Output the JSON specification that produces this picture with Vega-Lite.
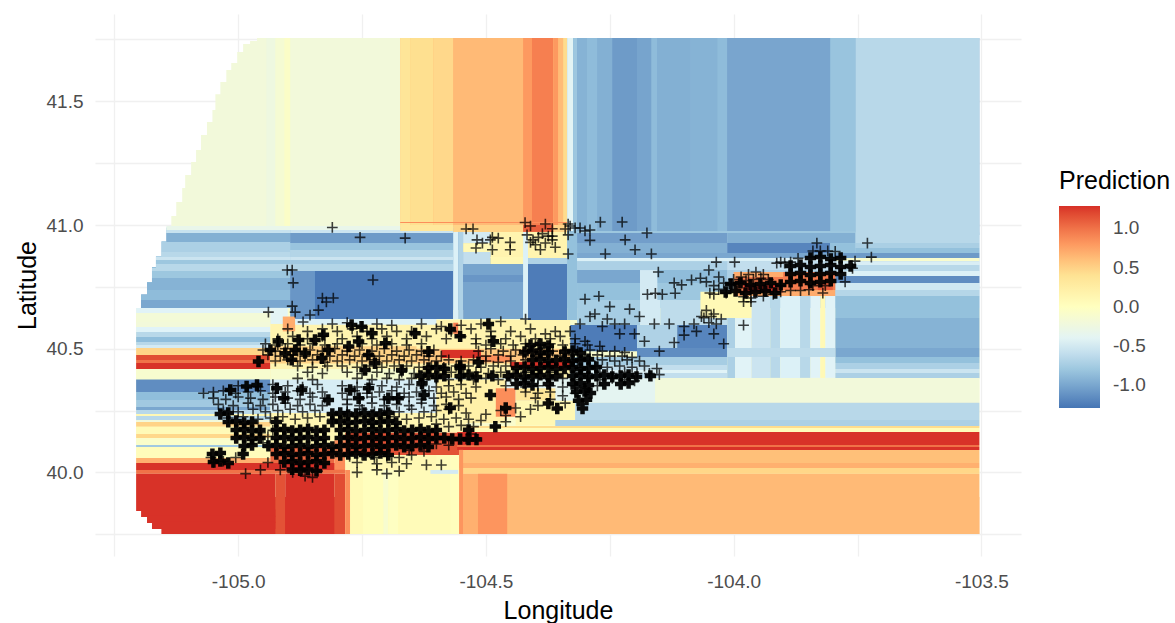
{"$schema":"https://vega.github.io/schema/vega-lite/v6.json","width":926,"height":542,"autosize":{"type":"none"},"padding":{"left":95,"top":14,"right":154,"bottom":67},"background":"white","config":{"view":{"stroke":null},"font":"Liberation Sans"},
"datasets":{"cells":[
{"lon1":-104.962,"lon2":-104.673,"lat1":41.0,"lat2":41.756,"pred":-0.2},
{"lon1":-105.135,"lon2":-104.673,"lat1":40.99,"lat2":41.036,"pred":-0.2},
{"lon1":-105.125,"lon2":-104.9,"lat1":41.03,"lat2":41.093,"pred":-0.2},
{"lon1":-105.113,"lon2":-104.9,"lat1":41.09,"lat2":41.15,"pred":-0.2},
{"lon1":-105.107,"lon2":-104.9,"lat1":41.14,"lat2":41.202,"pred":-0.2},
{"lon1":-105.095,"lon2":-104.9,"lat1":41.2,"lat2":41.255,"pred":-0.2},
{"lon1":-105.085,"lon2":-104.9,"lat1":41.25,"lat2":41.303,"pred":-0.2},
{"lon1":-105.075,"lon2":-104.9,"lat1":41.3,"lat2":41.364,"pred":-0.2},
{"lon1":-105.063,"lon2":-104.9,"lat1":41.36,"lat2":41.416,"pred":-0.2},
{"lon1":-105.052,"lon2":-104.9,"lat1":41.41,"lat2":41.465,"pred":-0.2},
{"lon1":-105.046,"lon2":-104.9,"lat1":41.46,"lat2":41.529,"pred":-0.2},
{"lon1":-105.036,"lon2":-104.9,"lat1":41.525,"lat2":41.578,"pred":-0.2},
{"lon1":-105.024,"lon2":-104.9,"lat1":41.575,"lat2":41.627,"pred":-0.2},
{"lon1":-105.014,"lon2":-104.9,"lat1":41.62,"lat2":41.655,"pred":-0.2},
{"lon1":-105.002,"lon2":-104.9,"lat1":41.65,"lat2":41.699,"pred":-0.2},
{"lon1":-104.99,"lon2":-104.9,"lat1":41.695,"lat2":41.732,"pred":-0.2},
{"lon1":-104.976,"lon2":-104.9,"lat1":41.73,"lat2":41.744,"pred":-0.2},
{"lon1":-104.673,"lon2":-104.336,"lat1":40.99,"lat2":41.756,"pred":0.6},
{"lon1":-104.336,"lon2":-103.504,"lat1":40.96,"lat2":41.756,"pred":-0.95},
{"lon1":-105.145,"lon2":-104.336,"lat1":40.9,"lat2":40.99,"pred":-0.8},
{"lon1":-105.155,"lon2":-104.336,"lat1":40.86,"lat2":40.935,"pred":-0.7},
{"lon1":-105.166,"lon2":-104.336,"lat1":40.81,"lat2":40.875,"pred":-0.7},
{"lon1":-105.174,"lon2":-104.336,"lat1":40.76,"lat2":40.83,"pred":-0.85},
{"lon1":-105.184,"lon2":-104.336,"lat1":40.71,"lat2":40.77,"pred":-0.9},
{"lon1":-105.196,"lon2":-104.336,"lat1":40.65,"lat2":40.72,"pred":-0.95},
{"lon1":-104.336,"lon2":-103.504,"lat1":40.38,"lat2":40.97,"pred":-0.7},
{"lon1":-105.206,"lon2":-103.504,"lat1":39.89,"lat2":40.665,"pred":-0.1},
{"lon1":-105.155,"lon2":-104.784,"lat1":39.751,"lat2":39.9,"pred":1.28},
{"lon1":-104.784,"lon2":-104.554,"lat1":39.751,"lat2":39.9,"pred":0.05},
{"lon1":-104.554,"lon2":-103.504,"lat1":39.751,"lat2":39.9,"pred":0.63},
{"lon1":-104.943,"lon2":-104.925,"lat1":40.996,"lat2":41.756,"pred":-0.25},
{"lon1":-104.925,"lon2":-104.907,"lat1":40.996,"lat2":41.756,"pred":-0.15},
{"lon1":-104.907,"lon2":-104.895,"lat1":40.996,"lat2":41.756,"pred":-0.06},
{"lon1":-104.673,"lon2":-104.653,"lat1":40.996,"lat2":41.756,"pred":0.36},
{"lon1":-104.653,"lon2":-104.606,"lat1":40.996,"lat2":41.756,"pred":0.43},
{"lon1":-104.606,"lon2":-104.566,"lat1":40.996,"lat2":41.756,"pred":0.47},
{"lon1":-104.566,"lon2":-104.425,"lat1":40.996,"lat2":41.756,"pred":0.63},
{"lon1":-104.425,"lon2":-104.407,"lat1":40.996,"lat2":41.756,"pred":0.8},
{"lon1":-104.407,"lon2":-104.364,"lat1":40.996,"lat2":41.756,"pred":0.93},
{"lon1":-104.364,"lon2":-104.354,"lat1":40.996,"lat2":41.756,"pred":0.8},
{"lon1":-104.354,"lon2":-104.344,"lat1":40.996,"lat2":41.756,"pred":0.62},
{"lon1":-104.344,"lon2":-104.336,"lat1":40.996,"lat2":41.756,"pred":0.45},
{"lon1":-104.336,"lon2":-104.324,"lat1":40.976,"lat2":41.756,"pred":-0.4},
{"lon1":-104.324,"lon2":-104.316,"lat1":40.976,"lat2":41.756,"pred":-0.8},
{"lon1":-104.316,"lon2":-104.296,"lat1":40.976,"lat2":41.756,"pred":-0.93},
{"lon1":-104.296,"lon2":-104.275,"lat1":40.976,"lat2":41.756,"pred":-0.88},
{"lon1":-104.275,"lon2":-104.245,"lat1":40.976,"lat2":41.756,"pred":-0.95},
{"lon1":-104.245,"lon2":-104.195,"lat1":40.976,"lat2":41.756,"pred":-1.07},
{"lon1":-104.195,"lon2":-104.166,"lat1":40.976,"lat2":41.756,"pred":-1.02},
{"lon1":-104.166,"lon2":-104.154,"lat1":40.976,"lat2":41.756,"pred":-0.88},
{"lon1":-104.154,"lon2":-104.088,"lat1":40.976,"lat2":41.756,"pred":-0.95},
{"lon1":-104.088,"lon2":-104.033,"lat1":40.976,"lat2":41.756,"pred":-0.93},
{"lon1":-104.033,"lon2":-104.013,"lat1":40.976,"lat2":41.756,"pred":-0.88},
{"lon1":-104.013,"lon2":-103.805,"lat1":40.976,"lat2":41.756,"pred":-1.01},
{"lon1":-103.805,"lon2":-103.754,"lat1":40.976,"lat2":41.756,"pred":-0.82},
{"lon1":-103.754,"lon2":-103.504,"lat1":40.976,"lat2":41.756,"pred":-0.65},
{"lon1":-105.145,"lon2":-104.673,"lat1":40.98,"lat2":40.996,"pred":-0.32},
{"lon1":-105.145,"lon2":-104.895,"lat1":40.968,"lat2":40.98,"pred":-0.57},
{"lon1":-105.145,"lon2":-104.895,"lat1":40.931,"lat2":40.968,"pred":-0.95},
{"lon1":-105.155,"lon2":-104.895,"lat1":40.891,"lat2":40.931,"pred":-0.72},
{"lon1":-105.155,"lon2":-104.895,"lat1":40.871,"lat2":40.891,"pred":-0.65},
{"lon1":-105.166,"lon2":-104.895,"lat1":40.859,"lat2":40.871,"pred":-0.55},
{"lon1":-105.166,"lon2":-104.895,"lat1":40.842,"lat2":40.859,"pred":-0.8},
{"lon1":-105.166,"lon2":-104.895,"lat1":40.826,"lat2":40.842,"pred":-0.65},
{"lon1":-105.174,"lon2":-104.895,"lat1":40.814,"lat2":40.826,"pred":-0.65},
{"lon1":-105.174,"lon2":-104.895,"lat1":40.786,"lat2":40.814,"pred":-0.8},
{"lon1":-105.174,"lon2":-104.895,"lat1":40.766,"lat2":40.786,"pred":-0.93},
{"lon1":-105.184,"lon2":-104.895,"lat1":40.737,"lat2":40.766,"pred":-0.93},
{"lon1":-105.184,"lon2":-104.895,"lat1":40.717,"lat2":40.737,"pred":-0.88},
{"lon1":-105.196,"lon2":-104.895,"lat1":40.697,"lat2":40.717,"pred":-0.88},
{"lon1":-105.196,"lon2":-104.895,"lat1":40.665,"lat2":40.697,"pred":-1.0},
{"lon1":-104.895,"lon2":-104.566,"lat1":40.968,"lat2":40.98,"pred":-0.55},
{"lon1":-104.895,"lon2":-104.566,"lat1":40.927,"lat2":40.968,"pred":-1.07},
{"lon1":-104.895,"lon2":-104.566,"lat1":40.899,"lat2":40.927,"pred":-0.82},
{"lon1":-104.895,"lon2":-104.566,"lat1":40.871,"lat2":40.899,"pred":-0.68},
{"lon1":-104.895,"lon2":-104.566,"lat1":40.859,"lat2":40.871,"pred":-0.55},
{"lon1":-104.895,"lon2":-104.566,"lat1":40.842,"lat2":40.859,"pred":-0.78},
{"lon1":-104.895,"lon2":-104.566,"lat1":40.814,"lat2":40.842,"pred":-0.68},
{"lon1":-104.895,"lon2":-104.845,"lat1":40.62,"lat2":40.814,"pred":-1.1},
{"lon1":-104.845,"lon2":-104.566,"lat1":40.62,"lat2":40.814,"pred":-1.27},
{"lon1":-104.673,"lon2":-104.336,"lat1":41.008,"lat2":41.012,"pred":0.85},
{"lon1":-104.673,"lon2":-104.566,"lat1":40.976,"lat2":41.0,"pred":0.33},
{"lon1":-104.566,"lon2":-104.336,"lat1":40.972,"lat2":41.0,"pred":0.5},
{"lon1":-104.425,"lon2":-104.364,"lat1":40.972,"lat2":41.0,"pred":1.1},
{"lon1":-104.566,"lon2":-104.336,"lat1":40.656,"lat2":40.972,"pred":-1.0},
{"lon1":-104.566,"lon2":-104.556,"lat1":40.62,"lat2":40.972,"pred":-0.45},
{"lon1":-104.556,"lon2":-104.546,"lat1":40.62,"lat2":40.972,"pred":-0.7},
{"lon1":-104.546,"lon2":-104.425,"lat1":40.927,"lat2":40.972,"pred":-0.5},
{"lon1":-104.546,"lon2":-104.491,"lat1":40.891,"lat2":40.927,"pred":0.08},
{"lon1":-104.491,"lon2":-104.336,"lat1":40.867,"lat2":40.972,"pred":0.15},
{"lon1":-104.546,"lon2":-104.491,"lat1":40.842,"lat2":40.891,"pred":-0.6},
{"lon1":-104.491,"lon2":-104.42,"lat1":40.842,"lat2":40.871,"pred":0.1},
{"lon1":-104.546,"lon2":-104.425,"lat1":40.62,"lat2":40.842,"pred":-1.02},
{"lon1":-104.546,"lon2":-104.425,"lat1":40.77,"lat2":40.798,"pred":-1.1},
{"lon1":-104.415,"lon2":-104.336,"lat1":40.842,"lat2":40.867,"pred":-0.7},
{"lon1":-104.415,"lon2":-104.336,"lat1":40.616,"lat2":40.842,"pred":-1.25},
{"lon1":-104.425,"lon2":-104.415,"lat1":40.616,"lat2":40.972,"pred":-0.45},
{"lon1":-104.336,"lon2":-104.316,"lat1":40.616,"lat2":40.976,"pred":-0.85},
{"lon1":-104.316,"lon2":-103.754,"lat1":40.968,"lat2":40.976,"pred":-0.8},
{"lon1":-104.316,"lon2":-104.013,"lat1":40.927,"lat2":40.968,"pred":-1.05},
{"lon1":-104.316,"lon2":-104.013,"lat1":40.887,"lat2":40.927,"pred":-0.95},
{"lon1":-104.316,"lon2":-103.754,"lat1":40.867,"lat2":40.887,"pred":-1.0},
{"lon1":-104.316,"lon2":-103.795,"lat1":40.854,"lat2":40.867,"pred":-0.45},
{"lon1":-104.316,"lon2":-104.013,"lat1":40.818,"lat2":40.854,"pred":-0.72},
{"lon1":-104.316,"lon2":-104.168,"lat1":40.766,"lat2":40.818,"pred":-1.0},
{"lon1":-104.168,"lon2":-104.013,"lat1":40.766,"lat2":40.818,"pred":-0.88},
{"lon1":-104.316,"lon2":-104.168,"lat1":40.697,"lat2":40.766,"pred":-0.85},
{"lon1":-104.168,"lon2":-104.013,"lat1":40.697,"lat2":40.766,"pred":-0.8},
{"lon1":-104.189,"lon2":-104.154,"lat1":40.656,"lat2":40.818,"pred":-0.5},
{"lon1":-104.316,"lon2":-104.189,"lat1":40.596,"lat2":40.697,"pred":-0.75},
{"lon1":-104.189,"lon2":-104.148,"lat1":40.596,"lat2":40.697,"pred":-0.5},
{"lon1":-104.148,"lon2":-104.013,"lat1":40.596,"lat2":40.697,"pred":-0.62},
{"lon1":-104.33,"lon2":-104.195,"lat1":40.49,"lat2":40.596,"pred":-1.25},
{"lon1":-104.195,"lon2":-104.114,"lat1":40.49,"lat2":40.596,"pred":-0.7},
{"lon1":-104.114,"lon2":-104.013,"lat1":40.49,"lat2":40.596,"pred":-1.2},
{"lon1":-104.195,"lon2":-104.013,"lat1":40.466,"lat2":40.503,"pred":-1.15},
{"lon1":-104.33,"lon2":-104.013,"lat1":40.434,"lat2":40.466,"pred":-0.75},
{"lon1":-104.33,"lon2":-104.013,"lat1":40.414,"lat2":40.434,"pred":-0.6},
{"lon1":-104.33,"lon2":-104.013,"lat1":40.402,"lat2":40.414,"pred":-0.42},
{"lon1":-104.33,"lon2":-104.013,"lat1":40.382,"lat2":40.402,"pred":-0.6},
{"lon1":-104.013,"lon2":-103.754,"lat1":40.927,"lat2":40.968,"pred":-0.95},
{"lon1":-104.013,"lon2":-103.805,"lat1":40.887,"lat2":40.927,"pred":-1.2},
{"lon1":-103.805,"lon2":-103.754,"lat1":40.887,"lat2":40.927,"pred":-0.85},
{"lon1":-103.754,"lon2":-103.504,"lat1":40.927,"lat2":40.976,"pred":-0.65},
{"lon1":-103.754,"lon2":-103.504,"lat1":40.907,"lat2":40.927,"pred":-0.73},
{"lon1":-103.754,"lon2":-103.504,"lat1":40.887,"lat2":40.907,"pred":-0.85},
{"lon1":-103.795,"lon2":-103.504,"lat1":40.867,"lat2":40.887,"pred":-1.07},
{"lon1":-103.795,"lon2":-103.504,"lat1":40.854,"lat2":40.867,"pred":-0.1},
{"lon1":-103.795,"lon2":-103.504,"lat1":40.838,"lat2":40.854,"pred":-0.47},
{"lon1":-103.795,"lon2":-103.504,"lat1":40.814,"lat2":40.838,"pred":-0.65},
{"lon1":-103.795,"lon2":-103.504,"lat1":40.794,"lat2":40.814,"pred":-0.45},
{"lon1":-103.795,"lon2":-103.504,"lat1":40.766,"lat2":40.794,"pred":-1.15},
{"lon1":-103.795,"lon2":-103.504,"lat1":40.737,"lat2":40.766,"pred":-0.52},
{"lon1":-103.795,"lon2":-103.504,"lat1":40.713,"lat2":40.737,"pred":-0.67},
{"lon1":-103.795,"lon2":-103.504,"lat1":40.624,"lat2":40.713,"pred":-0.85},
{"lon1":-103.795,"lon2":-103.504,"lat1":40.503,"lat2":40.624,"pred":-0.93},
{"lon1":-103.795,"lon2":-103.504,"lat1":40.466,"lat2":40.503,"pred":-1.0},
{"lon1":-103.795,"lon2":-103.504,"lat1":40.442,"lat2":40.466,"pred":-0.85},
{"lon1":-103.795,"lon2":-103.504,"lat1":40.418,"lat2":40.442,"pred":-0.72},
{"lon1":-103.795,"lon2":-103.504,"lat1":40.402,"lat2":40.418,"pred":-0.55},
{"lon1":-103.795,"lon2":-103.504,"lat1":40.382,"lat2":40.402,"pred":-0.72},
{"lon1":-104.013,"lon2":-103.795,"lat1":40.818,"lat2":40.854,"pred":-0.6},
{"lon1":-104.013,"lon2":-103.997,"lat1":40.382,"lat2":40.818,"pred":-0.72},
{"lon1":-103.997,"lon2":-103.964,"lat1":40.382,"lat2":40.713,"pred":-0.42},
{"lon1":-103.964,"lon2":-103.926,"lat1":40.382,"lat2":40.713,"pred":-0.55},
{"lon1":-103.926,"lon2":-103.906,"lat1":40.382,"lat2":40.713,"pred":-0.65},
{"lon1":-103.906,"lon2":-103.866,"lat1":40.382,"lat2":40.713,"pred":-0.45},
{"lon1":-103.866,"lon2":-103.845,"lat1":40.382,"lat2":40.713,"pred":-0.65},
{"lon1":-103.845,"lon2":-103.825,"lat1":40.382,"lat2":40.713,"pred":-0.42},
{"lon1":-103.825,"lon2":-103.815,"lat1":40.382,"lat2":40.713,"pred":0.08},
{"lon1":-103.815,"lon2":-103.795,"lat1":40.382,"lat2":40.713,"pred":-0.42},
{"lon1":-104.013,"lon2":-103.795,"lat1":40.466,"lat2":40.503,"pred":-0.62},
{"lon1":-104.067,"lon2":-103.964,"lat1":40.624,"lat2":40.73,"pred":0.08},
{"lon1":-104.0,"lon2":-103.795,"lat1":40.713,"lat2":40.81,"pred":0.7},
{"lon1":-103.997,"lon2":-103.9,"lat1":40.725,"lat2":40.79,"pred":0.95},
{"lon1":-103.9,"lon2":-103.795,"lat1":40.737,"lat2":40.81,"pred":0.95},
{"lon1":-103.98,"lon2":-103.91,"lat1":40.73,"lat2":40.76,"pred":1.28},
{"lon1":-103.83,"lon2":-103.8,"lat1":40.737,"lat2":40.766,"pred":1.1},
{"lon1":-105.206,"lon2":-104.935,"lat1":40.644,"lat2":40.665,"pred":-0.42},
{"lon1":-105.206,"lon2":-104.935,"lat1":40.608,"lat2":40.644,"pred":-0.18},
{"lon1":-105.206,"lon2":-104.935,"lat1":40.588,"lat2":40.608,"pred":-0.2},
{"lon1":-105.206,"lon2":-104.935,"lat1":40.568,"lat2":40.588,"pred":-0.43},
{"lon1":-105.206,"lon2":-104.935,"lat1":40.547,"lat2":40.568,"pred":-0.65},
{"lon1":-105.206,"lon2":-104.935,"lat1":40.527,"lat2":40.547,"pred":-0.87},
{"lon1":-105.206,"lon2":-104.935,"lat1":40.515,"lat2":40.527,"pred":-0.65},
{"lon1":-105.206,"lon2":-104.935,"lat1":40.503,"lat2":40.515,"pred":-0.5},
{"lon1":-105.206,"lon2":-104.935,"lat1":40.475,"lat2":40.503,"pred":0.5},
{"lon1":-105.206,"lon2":-104.935,"lat1":40.454,"lat2":40.475,"pred":1.18},
{"lon1":-105.206,"lon2":-104.935,"lat1":40.442,"lat2":40.454,"pred":1.0},
{"lon1":-105.206,"lon2":-104.935,"lat1":40.418,"lat2":40.442,"pred":1.28},
{"lon1":-105.206,"lon2":-104.935,"lat1":40.375,"lat2":40.418,"pred":-0.12},
{"lon1":-105.206,"lon2":-104.935,"lat1":40.325,"lat2":40.375,"pred":-1.15},
{"lon1":-105.206,"lon2":-104.935,"lat1":40.293,"lat2":40.325,"pred":-0.87},
{"lon1":-105.206,"lon2":-104.935,"lat1":40.264,"lat2":40.293,"pred":-0.78},
{"lon1":-105.206,"lon2":-104.935,"lat1":40.252,"lat2":40.264,"pred":-1.0},
{"lon1":-105.206,"lon2":-104.935,"lat1":40.236,"lat2":40.252,"pred":-0.65},
{"lon1":-105.206,"lon2":-104.935,"lat1":40.228,"lat2":40.236,"pred":0.1},
{"lon1":-105.206,"lon2":-104.935,"lat1":40.212,"lat2":40.228,"pred":-0.65},
{"lon1":-105.206,"lon2":-104.935,"lat1":40.204,"lat2":40.212,"pred":-0.2},
{"lon1":-105.206,"lon2":-104.935,"lat1":40.184,"lat2":40.204,"pred":0.5},
{"lon1":-105.206,"lon2":-104.935,"lat1":40.155,"lat2":40.184,"pred":0.07},
{"lon1":-105.206,"lon2":-104.935,"lat1":40.139,"lat2":40.155,"pred":0.47},
{"lon1":-105.206,"lon2":-104.935,"lat1":40.111,"lat2":40.139,"pred":-0.08},
{"lon1":-105.206,"lon2":-104.935,"lat1":40.103,"lat2":40.111,"pred":-0.78},
{"lon1":-105.206,"lon2":-104.935,"lat1":40.058,"lat2":40.103,"pred":0.04},
{"lon1":-105.206,"lon2":-104.935,"lat1":40.038,"lat2":40.058,"pred":0.68},
{"lon1":-105.206,"lon2":-104.784,"lat1":40.01,"lat2":40.038,"pred":1.28},
{"lon1":-105.206,"lon2":-104.784,"lat1":39.994,"lat2":40.01,"pred":1.0},
{"lon1":-105.206,"lon2":-104.925,"lat1":39.844,"lat2":39.994,"pred":1.28},
{"lon1":-104.925,"lon2":-104.905,"lat1":39.751,"lat2":39.994,"pred":1.15},
{"lon1":-104.905,"lon2":-104.806,"lat1":39.751,"lat2":39.994,"pred":1.28},
{"lon1":-104.806,"lon2":-104.784,"lat1":39.751,"lat2":39.994,"pred":1.18},
{"lon1":-104.784,"lon2":-104.774,"lat1":39.751,"lat2":40.01,"pred":0.85},
{"lon1":-104.774,"lon2":-104.748,"lat1":39.751,"lat2":40.07,"pred":0.07},
{"lon1":-104.748,"lon2":-104.707,"lat1":39.751,"lat2":40.07,"pred":0.02},
{"lon1":-104.707,"lon2":-104.697,"lat1":39.751,"lat2":40.07,"pred":-0.12},
{"lon1":-104.697,"lon2":-104.677,"lat1":39.751,"lat2":40.07,"pred":-0.02},
{"lon1":-104.677,"lon2":-104.572,"lat1":39.751,"lat2":40.07,"pred":0.05},
{"lon1":-104.572,"lon2":-104.554,"lat1":39.751,"lat2":40.07,"pred":0.02},
{"lon1":-104.612,"lon2":-104.556,"lat1":39.994,"lat2":40.01,"pred":-0.5},
{"lon1":-104.935,"lon2":-104.33,"lat1":40.375,"lat2":40.616,"pred":0.15},
{"lon1":-104.935,"lon2":-104.9,"lat1":40.6,"lat2":40.665,"pred":-0.4},
{"lon1":-104.91,"lon2":-104.885,"lat1":40.57,"lat2":40.63,"pred":0.7},
{"lon1":-104.885,"lon2":-104.6,"lat1":40.597,"lat2":40.62,"pred":-0.45},
{"lon1":-104.935,"lon2":-104.64,"lat1":40.44,"lat2":40.51,"pred":0.5},
{"lon1":-104.64,"lon2":-104.33,"lat1":40.44,"lat2":40.5,"pred":0.55},
{"lon1":-104.59,"lon2":-104.51,"lat1":40.462,"lat2":40.495,"pred":1.28},
{"lon1":-104.51,"lon2":-104.45,"lat1":40.446,"lat2":40.475,"pred":0.85},
{"lon1":-104.45,"lon2":-104.33,"lat1":40.422,"lat2":40.446,"pred":1.28},
{"lon1":-104.566,"lon2":-104.556,"lat1":40.56,"lat2":40.605,"pred":0.95},
{"lon1":-104.935,"lon2":-104.64,"lat1":40.375,"lat2":40.418,"pred":-0.12},
{"lon1":-104.935,"lon2":-104.6,"lat1":40.22,"lat2":40.375,"pred":-0.48},
{"lon1":-104.6,"lon2":-104.158,"lat1":40.281,"lat2":40.382,"pred":-0.38},
{"lon1":-104.6,"lon2":-104.46,"lat1":40.2,"lat2":40.375,"pred":0.2},
{"lon1":-104.48,"lon2":-104.44,"lat1":40.225,"lat2":40.34,"pred":0.85},
{"lon1":-104.44,"lon2":-104.36,"lat1":40.29,"lat2":40.34,"pred":0.35},
{"lon1":-104.44,"lon2":-104.32,"lat1":40.19,"lat2":40.29,"pred":0.1},
{"lon1":-104.158,"lon2":-103.504,"lat1":40.281,"lat2":40.382,"pred":-0.2},
{"lon1":-104.32,"lon2":-103.504,"lat1":40.212,"lat2":40.281,"pred":-0.65},
{"lon1":-104.36,"lon2":-103.504,"lat1":40.188,"lat2":40.212,"pred":-0.72},
{"lon1":-104.54,"lon2":-103.504,"lat1":40.179,"lat2":40.188,"pred":0.45},
{"lon1":-104.54,"lon2":-103.504,"lat1":40.163,"lat2":40.179,"pred":0.05},
{"lon1":-104.935,"lon2":-104.54,"lat1":40.16,"lat2":40.24,"pred":0.12},
{"lon1":-104.935,"lon2":-104.784,"lat1":40.103,"lat2":40.16,"pred":0.1},
{"lon1":-104.935,"lon2":-104.806,"lat1":40.038,"lat2":40.103,"pred":1.05},
{"lon1":-104.806,"lon2":-104.784,"lat1":40.01,"lat2":40.13,"pred":0.85},
{"lon1":-104.784,"lon2":-104.554,"lat1":40.07,"lat2":40.16,"pred":1.15},
{"lon1":-104.784,"lon2":-104.6,"lat1":40.01,"lat2":40.07,"pred":0.1},
{"lon1":-104.558,"lon2":-103.504,"lat1":40.111,"lat2":40.163,"pred":1.28},
{"lon1":-104.558,"lon2":-103.504,"lat1":40.103,"lat2":40.111,"pred":1.0},
{"lon1":-104.558,"lon2":-103.504,"lat1":40.091,"lat2":40.103,"pred":1.28},
{"lon1":-104.554,"lon2":-103.504,"lat1":40.038,"lat2":40.091,"pred":0.6},
{"lon1":-104.554,"lon2":-103.504,"lat1":40.018,"lat2":40.038,"pred":0.68},
{"lon1":-104.554,"lon2":-103.504,"lat1":39.994,"lat2":40.018,"pred":0.48},
{"lon1":-104.554,"lon2":-103.504,"lat1":39.751,"lat2":39.994,"pred":0.63},
{"lon1":-104.554,"lon2":-104.546,"lat1":39.751,"lat2":40.091,"pred":0.82},
{"lon1":-104.546,"lon2":-104.516,"lat1":39.751,"lat2":39.994,"pred":0.68},
{"lon1":-104.516,"lon2":-104.457,"lat1":39.751,"lat2":39.994,"pred":0.82},
{"lon1":-105.196,"lon2":-104.925,"lat1":39.82,"lat2":39.85,"pred":1.28},
{"lon1":-105.184,"lon2":-104.925,"lat1":39.795,"lat2":39.825,"pred":1.28},
{"lon1":-105.174,"lon2":-104.925,"lat1":39.771,"lat2":39.8,"pred":1.28}
],
"sites":[
{"lon":-104.81,"lat":40.99},{"lon":-104.754,"lat":40.95},{"lon":-104.663,"lat":40.947},{"lon":-104.901,"lat":40.818},{"lon":-104.891,"lat":40.818},{"lon":-104.728,"lat":40.778},{"lon":-104.889,"lat":40.766},{"lon":-104.891,"lat":40.672},{"lon":-104.83,"lat":40.705},{"lon":-104.808,"lat":40.705},{"lon":-104.822,"lat":40.689},{"lon":-104.939,"lat":40.648},{"lon":-104.885,"lat":40.648},{"lon":-104.869,"lat":40.608},{"lon":-104.855,"lat":40.636},{"lon":-104.838,"lat":40.656},
{"lon":-104.54,"lat":40.984},{"lon":-104.526,"lat":40.984},{"lon":-104.518,"lat":40.94},{"lon":-104.52,"lat":40.907},{"lon":-104.507,"lat":40.927},{"lon":-104.491,"lat":40.94},{"lon":-104.487,"lat":40.95},{"lon":-104.475,"lat":40.947},{"lon":-104.487,"lat":40.9},{"lon":-104.451,"lat":40.9},{"lon":-104.451,"lat":40.93},{"lon":-104.421,"lat":41.01},{"lon":-104.41,"lat":40.996},{"lon":-104.38,"lat":41.004},{"lon":-104.366,"lat":40.985},{"lon":-104.417,"lat":40.96},{"lon":-104.405,"lat":40.94},{"lon":-104.394,"lat":40.95},{"lon":-104.386,"lat":40.965},{"lon":-104.374,"lat":40.955},{"lon":-104.366,"lat":40.955},{"lon":-104.4,"lat":40.92},{"lon":-104.38,"lat":40.927},{"lon":-104.366,"lat":40.94},{"lon":-104.36,"lat":40.91},{"lon":-104.334,"lat":41.004},{"lon":-104.33,"lat":40.996},{"lon":-104.34,"lat":40.984},{"lon":-104.32,"lat":40.988},{"lon":-104.334,"lat":40.96},{"lon":-104.269,"lat":41.012},{"lon":-104.225,"lat":41.012},{"lon":-104.31,"lat":40.988},{"lon":-104.3,"lat":40.976},{"lon":-104.29,"lat":40.98},{"lon":-104.29,"lat":40.938},{"lon":-104.175,"lat":40.968},{"lon":-104.219,"lat":40.94},{"lon":-104.199,"lat":40.9},{"lon":-104.166,"lat":40.883},{"lon":-104.259,"lat":40.883},{"lon":-104.334,"lat":40.883},{"lon":-104.39,"lat":40.9},{"lon":-104.41,"lat":40.93},
{"lon":-104.152,"lat":40.81},{"lon":-104.085,"lat":40.778},{"lon":-104.12,"lat":40.766},{"lon":-104.105,"lat":40.758},{"lon":-104.05,"lat":40.818},{"lon":-104.035,"lat":40.85},{"lon":-103.998,"lat":40.85},{"lon":-103.913,"lat":40.846},{"lon":-103.897,"lat":40.846},{"lon":-104.03,"lat":40.79},{"lon":-103.832,"lat":40.927},{"lon":-103.73,"lat":40.927},{"lon":-103.722,"lat":40.87},{"lon":-103.755,"lat":40.854},{"lon":-103.775,"lat":40.77},{"lon":-103.76,"lat":40.825},{"lon":-104.174,"lat":40.72},{"lon":-104.158,"lat":40.724},{"lon":-104.144,"lat":40.72},{"lon":-104.118,"lat":40.724},{"lon":-104.048,"lat":40.725},{"lon":-104.272,"lat":40.712},{"lon":-104.3,"lat":40.7},{"lon":-104.25,"lat":40.67},{"lon":-104.21,"lat":40.66},{"lon":-104.19,"lat":40.63},{"lon":-104.16,"lat":40.6},{"lon":-104.13,"lat":40.6},{"lon":-104.1,"lat":40.59},{"lon":-104.08,"lat":40.6},{"lon":-104.065,"lat":40.63},{"lon":-104.055,"lat":40.655},{"lon":-104.04,"lat":40.64},{"lon":-104.025,"lat":40.62},{"lon":-104.05,"lat":40.605},{"lon":-104.035,"lat":40.6},{"lon":-104.06,"lat":40.625},{"lon":-104.045,"lat":40.63},{"lon":-104.04,"lat":40.56},{"lon":-103.98,"lat":40.595},{"lon":-104.02,"lat":40.52},{"lon":-104.23,"lat":40.56},{"lon":-104.24,"lat":40.6},{"lon":-104.29,"lat":40.63},{"lon":-104.31,"lat":40.6},{"lon":-104.28,"lat":40.64},{"lon":-104.265,"lat":40.59},{"lon":-104.255,"lat":40.62},{"lon":-104.22,"lat":40.6},{"lon":-104.2,"lat":40.56},{"lon":-104.18,"lat":40.53},{"lon":-104.15,"lat":40.49},{"lon":-104.12,"lat":40.525},{"lon":-104.1,"lat":40.555},{"lon":-104.075,"lat":40.57},
{"lon":-104.067,"lat":40.785},{"lon":-104.055,"lat":40.77},{"lon":-104.04,"lat":40.755},{"lon":-104.03,"lat":40.74},{"lon":-104.015,"lat":40.725},{"lon":-104.04,"lat":40.72},{"lon":-104.02,"lat":40.765},{"lon":-104.0,"lat":40.78},{"lon":-103.985,"lat":40.79},{"lon":-103.97,"lat":40.8},{"lon":-103.955,"lat":40.81},{"lon":-103.94,"lat":40.8},{"lon":-104.005,"lat":40.76},{"lon":-103.99,"lat":40.765},{"lon":-103.975,"lat":40.775},{"lon":-103.96,"lat":40.78},{"lon":-103.945,"lat":40.785},{"lon":-103.93,"lat":40.78},{"lon":-103.98,"lat":40.71},{"lon":-103.965,"lat":40.705},{"lon":-103.94,"lat":40.712},{"lon":-103.92,"lat":40.72},{"lon":-103.905,"lat":40.73},{"lon":-103.98,"lat":40.69},{"lon":-103.965,"lat":40.69},{"lon":-103.82,"lat":40.725},{"lon":-103.885,"lat":40.735},{"lon":-103.865,"lat":40.735},{"lon":-103.848,"lat":40.738},{"lon":-103.905,"lat":40.755},{"lon":-103.84,"lat":40.755},{"lon":-103.815,"lat":40.755},{"lon":-103.84,"lat":40.895},{"lon":-103.825,"lat":40.895},{"lon":-103.81,"lat":40.895},{"lon":-103.795,"lat":40.893},{"lon":-103.87,"lat":40.865},{"lon":-103.905,"lat":40.85},{"lon":-103.885,"lat":40.85},
{"lon":-104.81,"lat":40.6},{"lon":-104.78,"lat":40.605},{"lon":-104.75,"lat":40.59},{"lon":-104.72,"lat":40.6},{"lon":-104.69,"lat":40.595},{"lon":-104.63,"lat":40.6},{"lon":-104.59,"lat":40.59},{"lon":-104.55,"lat":40.595},{"lon":-104.51,"lat":40.6},{"lon":-104.47,"lat":40.61},{"lon":-104.42,"lat":40.62},
{"lon":-104.9,"lat":40.58},{"lon":-104.86,"lat":40.57},{"lon":-104.83,"lat":40.58},{"lon":-104.8,"lat":40.57},{"lon":-104.77,"lat":40.58},{"lon":-104.74,"lat":40.57},{"lon":-104.71,"lat":40.58},{"lon":-104.68,"lat":40.57},{"lon":-104.65,"lat":40.57},{"lon":-104.6,"lat":40.58},{"lon":-104.57,"lat":40.57},{"lon":-104.53,"lat":40.58},{"lon":-104.49,"lat":40.57},{"lon":-104.45,"lat":40.57},{"lon":-104.41,"lat":40.58},{"lon":-104.38,"lat":40.56},{"lon":-104.36,"lat":40.57},{"lon":-104.33,"lat":40.57},
{"lon":-104.92,"lat":40.54},{"lon":-104.89,"lat":40.55},{"lon":-104.86,"lat":40.54},{"lon":-104.83,"lat":40.55},{"lon":-104.79,"lat":40.54},{"lon":-104.76,"lat":40.55},{"lon":-104.73,"lat":40.54},{"lon":-104.7,"lat":40.55},{"lon":-104.66,"lat":40.54},{"lon":-104.62,"lat":40.55},{"lon":-104.58,"lat":40.54},{"lon":-104.55,"lat":40.55},{"lon":-104.52,"lat":40.54},{"lon":-104.49,"lat":40.55},{"lon":-104.46,"lat":40.54},{"lon":-104.43,"lat":40.55},{"lon":-104.4,"lat":40.54},{"lon":-104.37,"lat":40.54},{"lon":-104.35,"lat":40.55},{"lon":-104.32,"lat":40.54},{"lon":-104.3,"lat":40.53},
{"lon":-104.945,"lat":40.52},{"lon":-104.92,"lat":40.515},{"lon":-104.9,"lat":40.52},{"lon":-104.875,"lat":40.515},{"lon":-104.85,"lat":40.52},{"lon":-104.825,"lat":40.515},{"lon":-104.8,"lat":40.52},{"lon":-104.75,"lat":40.52},{"lon":-104.72,"lat":40.515},{"lon":-104.69,"lat":40.52},{"lon":-104.66,"lat":40.515},{"lon":-104.63,"lat":40.52},{"lon":-104.52,"lat":40.52},{"lon":-104.5,"lat":40.515},{"lon":-104.47,"lat":40.52},{"lon":-104.445,"lat":40.515},{"lon":-104.42,"lat":40.52},{"lon":-104.395,"lat":40.515},{"lon":-104.37,"lat":40.52},{"lon":-104.345,"lat":40.515},{"lon":-104.32,"lat":40.52},{"lon":-104.295,"lat":40.515},{"lon":-104.27,"lat":40.51},
{"lon":-104.95,"lat":40.495},{"lon":-104.925,"lat":40.49},{"lon":-104.905,"lat":40.5},{"lon":-104.88,"lat":40.49},{"lon":-104.855,"lat":40.495},{"lon":-104.83,"lat":40.49},{"lon":-104.805,"lat":40.5},{"lon":-104.78,"lat":40.49},{"lon":-104.755,"lat":40.495},{"lon":-104.73,"lat":40.49},{"lon":-104.705,"lat":40.5},{"lon":-104.68,"lat":40.49},{"lon":-104.655,"lat":40.495},{"lon":-104.63,"lat":40.49},{"lon":-104.605,"lat":40.495},{"lon":-104.515,"lat":40.49},{"lon":-104.49,"lat":40.5},{"lon":-104.465,"lat":40.49},{"lon":-104.44,"lat":40.495},{"lon":-104.415,"lat":40.49},{"lon":-104.39,"lat":40.5},{"lon":-104.365,"lat":40.49},{"lon":-104.34,"lat":40.495},{"lon":-104.315,"lat":40.49},{"lon":-104.29,"lat":40.495},{"lon":-104.265,"lat":40.49},{"lon":-104.24,"lat":40.49},{"lon":-104.22,"lat":40.485},
{"lon":-104.94,"lat":40.475},{"lon":-104.915,"lat":40.47},{"lon":-104.89,"lat":40.475},{"lon":-104.865,"lat":40.47},{"lon":-104.84,"lat":40.475},{"lon":-104.815,"lat":40.47},{"lon":-104.79,"lat":40.475},{"lon":-104.765,"lat":40.47},{"lon":-104.74,"lat":40.475},{"lon":-104.715,"lat":40.47},{"lon":-104.69,"lat":40.475},{"lon":-104.665,"lat":40.47},{"lon":-104.64,"lat":40.475},{"lon":-104.615,"lat":40.47},{"lon":-104.59,"lat":40.47},{"lon":-104.5,"lat":40.47},{"lon":-104.475,"lat":40.475},{"lon":-104.45,"lat":40.47},{"lon":-104.425,"lat":40.475},{"lon":-104.4,"lat":40.47},{"lon":-104.375,"lat":40.475},{"lon":-104.35,"lat":40.47},{"lon":-104.325,"lat":40.475},{"lon":-104.3,"lat":40.47},{"lon":-104.275,"lat":40.475},{"lon":-104.25,"lat":40.47},{"lon":-104.225,"lat":40.47},{"lon":-104.205,"lat":40.465},
{"lon":-104.925,"lat":40.45},{"lon":-104.9,"lat":40.455},{"lon":-104.875,"lat":40.45},{"lon":-104.85,"lat":40.455},{"lon":-104.825,"lat":40.445},{"lon":-104.8,"lat":40.45},{"lon":-104.775,"lat":40.455},{"lon":-104.75,"lat":40.45},{"lon":-104.725,"lat":40.455},{"lon":-104.7,"lat":40.45},{"lon":-104.675,"lat":40.455},{"lon":-104.65,"lat":40.45},{"lon":-104.625,"lat":40.455},{"lon":-104.6,"lat":40.45},{"lon":-104.575,"lat":40.455},{"lon":-104.55,"lat":40.45},{"lon":-104.525,"lat":40.455},{"lon":-104.5,"lat":40.45},{"lon":-104.475,"lat":40.445},{"lon":-104.45,"lat":40.45},{"lon":-104.42,"lat":40.455},{"lon":-104.34,"lat":40.45},{"lon":-104.315,"lat":40.455},{"lon":-104.29,"lat":40.45},{"lon":-104.265,"lat":40.455},{"lon":-104.24,"lat":40.45},{"lon":-104.215,"lat":40.455},{"lon":-104.19,"lat":40.45},
{"lon":-104.88,"lat":40.43},{"lon":-104.85,"lat":40.425},{"lon":-104.82,"lat":40.43},{"lon":-104.79,"lat":40.43},{"lon":-104.76,"lat":40.425},{"lon":-104.735,"lat":40.43},{"lon":-104.71,"lat":40.425},{"lon":-104.685,"lat":40.43},{"lon":-104.66,"lat":40.43},{"lon":-104.635,"lat":40.425},{"lon":-104.61,"lat":40.43},{"lon":-104.585,"lat":40.425},{"lon":-104.56,"lat":40.43},{"lon":-104.535,"lat":40.43},{"lon":-104.51,"lat":40.425},{"lon":-104.485,"lat":40.43},{"lon":-104.46,"lat":40.43},{"lon":-104.33,"lat":40.43},{"lon":-104.305,"lat":40.425},{"lon":-104.28,"lat":40.43},{"lon":-104.255,"lat":40.425},{"lon":-104.23,"lat":40.43},{"lon":-104.205,"lat":40.425},{"lon":-104.18,"lat":40.43},{"lon":-104.155,"lat":40.42},
{"lon":-104.86,"lat":40.405},{"lon":-104.83,"lat":40.4},{"lon":-104.78,"lat":40.405},{"lon":-104.75,"lat":40.4},{"lon":-104.72,"lat":40.405},{"lon":-104.695,"lat":40.4},{"lon":-104.67,"lat":40.405},{"lon":-104.645,"lat":40.4},{"lon":-104.62,"lat":40.405},{"lon":-104.595,"lat":40.4},{"lon":-104.57,"lat":40.405},{"lon":-104.545,"lat":40.4},{"lon":-104.52,"lat":40.405},{"lon":-104.495,"lat":40.4},{"lon":-104.47,"lat":40.405},{"lon":-104.445,"lat":40.4},{"lon":-104.42,"lat":40.405},{"lon":-104.395,"lat":40.4},{"lon":-104.37,"lat":40.405},{"lon":-104.345,"lat":40.4},{"lon":-104.32,"lat":40.405},{"lon":-104.295,"lat":40.4},{"lon":-104.27,"lat":40.405},{"lon":-104.245,"lat":40.4},{"lon":-104.22,"lat":40.405},{"lon":-104.195,"lat":40.4},{"lon":-104.17,"lat":40.4},{"lon":-104.15,"lat":40.395},
{"lon":-104.88,"lat":40.38},{"lon":-104.85,"lat":40.375},{"lon":-104.76,"lat":40.38},{"lon":-104.73,"lat":40.375},{"lon":-104.7,"lat":40.38},{"lon":-104.675,"lat":40.375},{"lon":-104.65,"lat":40.38},{"lon":-104.625,"lat":40.375},{"lon":-104.6,"lat":40.38},{"lon":-104.575,"lat":40.375},{"lon":-104.55,"lat":40.38},{"lon":-104.525,"lat":40.375},{"lon":-104.5,"lat":40.38},{"lon":-104.475,"lat":40.375},{"lon":-104.45,"lat":40.38},{"lon":-104.42,"lat":40.375},{"lon":-104.395,"lat":40.38},{"lon":-104.37,"lat":40.375},{"lon":-104.345,"lat":40.38},{"lon":-104.32,"lat":40.375},{"lon":-104.295,"lat":40.38},{"lon":-104.27,"lat":40.375},{"lon":-104.245,"lat":40.38},{"lon":-104.22,"lat":40.375},{"lon":-104.2,"lat":40.37},
{"lon":-105.0,"lat":40.35},{"lon":-104.96,"lat":40.345},{"lon":-104.93,"lat":40.355},{"lon":-104.9,"lat":40.35},{"lon":-104.87,"lat":40.345},{"lon":-104.84,"lat":40.355},{"lon":-104.79,"lat":40.35},{"lon":-104.76,"lat":40.345},{"lon":-104.735,"lat":40.355},{"lon":-104.71,"lat":40.35},{"lon":-104.68,"lat":40.345},{"lon":-104.655,"lat":40.355},{"lon":-104.63,"lat":40.35},{"lon":-104.6,"lat":40.345},{"lon":-104.575,"lat":40.35},{"lon":-104.55,"lat":40.355},{"lon":-104.52,"lat":40.345},{"lon":-104.46,"lat":40.35},{"lon":-104.42,"lat":40.345},{"lon":-104.395,"lat":40.35},{"lon":-104.37,"lat":40.35},{"lon":-104.345,"lat":40.345},{"lon":-104.32,"lat":40.35},{"lon":-104.3,"lat":40.34},{"lon":-104.275,"lat":40.35},
{"lon":-105.07,"lat":40.32},{"lon":-105.05,"lat":40.325},{"lon":-105.03,"lat":40.33},{"lon":-105.005,"lat":40.32},{"lon":-104.98,"lat":40.325},{"lon":-104.955,"lat":40.33},{"lon":-104.93,"lat":40.32},{"lon":-104.905,"lat":40.325},{"lon":-104.88,"lat":40.33},{"lon":-104.855,"lat":40.32},{"lon":-104.83,"lat":40.325},{"lon":-104.79,"lat":40.32},{"lon":-104.765,"lat":40.33},{"lon":-104.74,"lat":40.32},{"lon":-104.715,"lat":40.325},{"lon":-104.69,"lat":40.33},{"lon":-104.665,"lat":40.32},{"lon":-104.64,"lat":40.325},{"lon":-104.615,"lat":40.33},{"lon":-104.59,"lat":40.32},{"lon":-104.565,"lat":40.325},{"lon":-104.54,"lat":40.32},{"lon":-104.42,"lat":40.325},{"lon":-104.395,"lat":40.32},{"lon":-104.37,"lat":40.325},{"lon":-104.345,"lat":40.31},{"lon":-104.32,"lat":40.32},
{"lon":-105.05,"lat":40.3},{"lon":-105.025,"lat":40.295},{"lon":-105.0,"lat":40.305},{"lon":-104.975,"lat":40.3},{"lon":-104.95,"lat":40.295},{"lon":-104.925,"lat":40.305},{"lon":-104.9,"lat":40.3},{"lon":-104.875,"lat":40.295},{"lon":-104.85,"lat":40.305},{"lon":-104.825,"lat":40.3},{"lon":-104.78,"lat":40.295},{"lon":-104.755,"lat":40.3},{"lon":-104.73,"lat":40.305},{"lon":-104.705,"lat":40.295},{"lon":-104.68,"lat":40.3},{"lon":-104.655,"lat":40.305},{"lon":-104.63,"lat":40.295},{"lon":-104.605,"lat":40.3},{"lon":-104.58,"lat":40.305},{"lon":-104.555,"lat":40.295},{"lon":-104.53,"lat":40.3},{"lon":-104.4,"lat":40.3},{"lon":-104.37,"lat":40.295},{"lon":-104.34,"lat":40.28},
{"lon":-105.04,"lat":40.275},{"lon":-105.01,"lat":40.27},{"lon":-104.98,"lat":40.28},{"lon":-104.955,"lat":40.27},{"lon":-104.93,"lat":40.275},{"lon":-104.905,"lat":40.28},{"lon":-104.88,"lat":40.27},{"lon":-104.855,"lat":40.275},{"lon":-104.83,"lat":40.27},{"lon":-104.78,"lat":40.275},{"lon":-104.755,"lat":40.27},{"lon":-104.73,"lat":40.28},{"lon":-104.705,"lat":40.27},{"lon":-104.68,"lat":40.275},{"lon":-104.655,"lat":40.27},{"lon":-104.63,"lat":40.28},{"lon":-104.605,"lat":40.27},{"lon":-104.58,"lat":40.275},{"lon":-104.555,"lat":40.27},{"lon":-104.47,"lat":40.25},{"lon":-104.44,"lat":40.26},{"lon":-104.41,"lat":40.255},{"lon":-104.395,"lat":40.27},
{"lon":-105.03,"lat":40.25},{"lon":-105.0,"lat":40.245},{"lon":-104.97,"lat":40.255},{"lon":-104.945,"lat":40.245},{"lon":-104.92,"lat":40.25},{"lon":-104.895,"lat":40.255},{"lon":-104.87,"lat":40.245},{"lon":-104.845,"lat":40.25},{"lon":-104.78,"lat":40.245},{"lon":-104.75,"lat":40.255},{"lon":-104.725,"lat":40.245},{"lon":-104.7,"lat":40.25},{"lon":-104.675,"lat":40.245},{"lon":-104.65,"lat":40.255},{"lon":-104.625,"lat":40.245},{"lon":-104.6,"lat":40.25},{"lon":-104.575,"lat":40.255},{"lon":-104.54,"lat":40.24},{"lon":-104.5,"lat":40.235},{"lon":-104.46,"lat":40.23},{"lon":-104.43,"lat":40.225},
{"lon":-105.02,"lat":40.22},{"lon":-104.99,"lat":40.225},{"lon":-104.96,"lat":40.215},{"lon":-104.935,"lat":40.22},{"lon":-104.91,"lat":40.225},{"lon":-104.885,"lat":40.215},{"lon":-104.86,"lat":40.22},{"lon":-104.835,"lat":40.225},{"lon":-104.81,"lat":40.215},{"lon":-104.785,"lat":40.22},{"lon":-104.76,"lat":40.225},{"lon":-104.735,"lat":40.215},{"lon":-104.71,"lat":40.22},{"lon":-104.685,"lat":40.225},{"lon":-104.66,"lat":40.215},{"lon":-104.635,"lat":40.22},{"lon":-104.61,"lat":40.225},{"lon":-104.585,"lat":40.215},{"lon":-104.56,"lat":40.22},{"lon":-104.535,"lat":40.215},{"lon":-104.51,"lat":40.21},{"lon":-104.46,"lat":40.205},
{"lon":-104.6,"lat":40.195},{"lon":-104.575,"lat":40.185},{"lon":-104.55,"lat":40.19},{"lon":-104.525,"lat":40.185},{"lon":-104.955,"lat":40.16},{"lon":-104.93,"lat":40.17},{"lon":-104.53,"lat":40.155},{"lon":-104.94,"lat":40.145},{"lon":-104.54,"lat":40.135},{"lon":-104.52,"lat":40.14},{"lon":-104.95,"lat":40.12},{"lon":-104.6,"lat":40.115},{"lon":-104.575,"lat":40.11},{"lon":-104.655,"lat":40.09},{"lon":-104.625,"lat":40.085},{"lon":-104.65,"lat":40.07},{"lon":-104.675,"lat":40.06},{"lon":-104.7,"lat":40.065},{"lon":-104.725,"lat":40.06},{"lon":-104.75,"lat":40.07},{"lon":-104.775,"lat":40.065},{"lon":-105.055,"lat":40.06},{"lon":-105.005,"lat":40.06},{"lon":-105.05,"lat":40.04},{"lon":-105.03,"lat":40.045},{"lon":-104.94,"lat":40.04},
{"lon":-104.76,"lat":40.04},{"lon":-104.72,"lat":40.035},{"lon":-104.69,"lat":40.04},{"lon":-104.66,"lat":40.035},{"lon":-104.62,"lat":40.03},{"lon":-104.59,"lat":40.03},{"lon":-104.985,"lat":39.995},{"lon":-104.955,"lat":40.01},{"lon":-104.915,"lat":40.01},{"lon":-104.89,"lat":40.0},{"lon":-104.87,"lat":40.01},{"lon":-104.84,"lat":40.005},{"lon":-104.76,"lat":40.0},{"lon":-104.72,"lat":40.01},{"lon":-104.7,"lat":39.995},{"lon":-104.675,"lat":40.005},{"lon":-104.865,"lat":39.985},{"lon":-104.85,"lat":39.98}
],
"clumps":[
{"lon":-104.959,"lat":40.448},{"lon":-104.935,"lat":40.495},{"lon":-104.919,"lat":40.529},{"lon":-104.905,"lat":40.482},{"lon":-104.892,"lat":40.455},{"lon":-104.878,"lat":40.535},{"lon":-104.885,"lat":40.495},{"lon":-104.865,"lat":40.482},{"lon":-104.845,"lat":40.535},{"lon":-104.828,"lat":40.556},{"lon":-104.831,"lat":40.461},{"lon":-104.818,"lat":40.495},{"lon":-104.777,"lat":40.509},{"lon":-104.757,"lat":40.529},{"lon":-104.771,"lat":40.596},{"lon":-104.751,"lat":40.589},{"lon":-104.73,"lat":40.562},{"lon":-104.703,"lat":40.522},{"lon":-104.737,"lat":40.475},{"lon":-104.744,"lat":40.414},{"lon":-104.724,"lat":40.441},{"lon":-104.67,"lat":40.414},{"lon":-104.643,"lat":40.562},{"lon":-104.616,"lat":40.488},{"lon":-104.629,"lat":40.36},{"lon":-105.016,"lat":40.333},{"lon":-104.983,"lat":40.347},{"lon":-104.962,"lat":40.353},{"lon":-104.922,"lat":40.34},{"lon":-104.908,"lat":40.3},{"lon":-104.872,"lat":40.333},{"lon":-104.818,"lat":40.293},{"lon":-104.774,"lat":40.333},{"lon":-104.737,"lat":40.34},{"lon":-104.757,"lat":40.3},{"lon":-104.697,"lat":40.3},{"lon":-104.677,"lat":40.3},
{"lon":-104.81,"lat":40.236},{"lon":-104.794,"lat":40.24},{"lon":-104.778,"lat":40.232},{"lon":-104.762,"lat":40.236},{"lon":-104.745,"lat":40.24},{"lon":-104.729,"lat":40.232},{"lon":-104.713,"lat":40.236},{"lon":-104.697,"lat":40.24},{"lon":-105.036,"lat":40.236},{"lon":-105.02,"lat":40.24},
{"lon":-105.02,"lat":40.204},{"lon":-105.004,"lat":40.208},{"lon":-104.988,"lat":40.2},{"lon":-104.972,"lat":40.204},{"lon":-104.923,"lat":40.204},{"lon":-104.81,"lat":40.204},{"lon":-104.794,"lat":40.208},{"lon":-104.778,"lat":40.2},{"lon":-104.762,"lat":40.204},{"lon":-104.745,"lat":40.208},{"lon":-104.729,"lat":40.2},{"lon":-104.713,"lat":40.204},{"lon":-104.697,"lat":40.208},{"lon":-104.681,"lat":40.2},
{"lon":-105.004,"lat":40.171},{"lon":-104.988,"lat":40.175},{"lon":-104.972,"lat":40.167},{"lon":-104.956,"lat":40.171},{"lon":-104.923,"lat":40.171},{"lon":-104.907,"lat":40.175},{"lon":-104.891,"lat":40.167},{"lon":-104.875,"lat":40.171},{"lon":-104.859,"lat":40.175},{"lon":-104.842,"lat":40.167},{"lon":-104.826,"lat":40.171},{"lon":-104.794,"lat":40.171},{"lon":-104.778,"lat":40.175},{"lon":-104.762,"lat":40.167},{"lon":-104.745,"lat":40.171},{"lon":-104.729,"lat":40.175},{"lon":-104.713,"lat":40.167},{"lon":-104.697,"lat":40.171},{"lon":-104.681,"lat":40.175},{"lon":-104.665,"lat":40.167},{"lon":-104.649,"lat":40.171},{"lon":-104.632,"lat":40.175},{"lon":-104.616,"lat":40.167},{"lon":-104.6,"lat":40.171},
{"lon":-105.004,"lat":40.139},{"lon":-104.988,"lat":40.143},{"lon":-104.972,"lat":40.135},{"lon":-104.956,"lat":40.139},{"lon":-104.923,"lat":40.139},{"lon":-104.907,"lat":40.143},{"lon":-104.891,"lat":40.135},{"lon":-104.875,"lat":40.139},{"lon":-104.859,"lat":40.143},{"lon":-104.842,"lat":40.135},{"lon":-104.826,"lat":40.139},{"lon":-104.794,"lat":40.139},{"lon":-104.778,"lat":40.143},{"lon":-104.762,"lat":40.135},{"lon":-104.745,"lat":40.139},{"lon":-104.729,"lat":40.143},{"lon":-104.713,"lat":40.135},{"lon":-104.697,"lat":40.139},{"lon":-104.681,"lat":40.143},{"lon":-104.665,"lat":40.135},{"lon":-104.649,"lat":40.139},{"lon":-104.632,"lat":40.143},{"lon":-104.616,"lat":40.135},{"lon":-104.6,"lat":40.139},{"lon":-104.584,"lat":40.139},{"lon":-104.568,"lat":40.135},{"lon":-104.552,"lat":40.135},{"lon":-104.535,"lat":40.133},{"lon":-104.519,"lat":40.133},
{"lon":-104.988,"lat":40.107},{"lon":-104.972,"lat":40.111},{"lon":-104.939,"lat":40.107},{"lon":-104.923,"lat":40.111},{"lon":-104.907,"lat":40.103},{"lon":-104.891,"lat":40.107},{"lon":-104.875,"lat":40.111},{"lon":-104.859,"lat":40.103},{"lon":-104.842,"lat":40.107},{"lon":-104.826,"lat":40.111},{"lon":-104.81,"lat":40.103},{"lon":-104.794,"lat":40.107},{"lon":-104.778,"lat":40.111},{"lon":-104.762,"lat":40.103},{"lon":-104.745,"lat":40.107},{"lon":-104.729,"lat":40.111},{"lon":-104.713,"lat":40.103},{"lon":-104.697,"lat":40.107},{"lon":-104.681,"lat":40.111},{"lon":-104.665,"lat":40.103},{"lon":-104.649,"lat":40.107},{"lon":-104.632,"lat":40.111},{"lon":-104.616,"lat":40.103},
{"lon":-105.052,"lat":40.074},{"lon":-105.036,"lat":40.078},{"lon":-104.99,"lat":40.074},{"lon":-104.923,"lat":40.074},{"lon":-104.907,"lat":40.078},{"lon":-104.891,"lat":40.07},{"lon":-104.875,"lat":40.074},{"lon":-104.859,"lat":40.078},{"lon":-104.842,"lat":40.07},{"lon":-104.826,"lat":40.074},{"lon":-104.81,"lat":40.078},{"lon":-104.794,"lat":40.07},{"lon":-104.778,"lat":40.074},{"lon":-104.762,"lat":40.078},{"lon":-104.745,"lat":40.07},{"lon":-104.729,"lat":40.074},{"lon":-104.713,"lat":40.078},{"lon":-104.697,"lat":40.07},
{"lon":-105.05,"lat":40.042},{"lon":-105.036,"lat":40.046},{"lon":-105.02,"lat":40.038},{"lon":-104.907,"lat":40.042},{"lon":-104.891,"lat":40.046},{"lon":-104.875,"lat":40.038},{"lon":-104.859,"lat":40.042},{"lon":-104.842,"lat":40.046},{"lon":-104.826,"lat":40.038},{"lon":-104.891,"lat":40.012},{"lon":-104.875,"lat":40.008},{"lon":-104.859,"lat":40.012},{"lon":-104.842,"lat":40.006},
{"lon":-104.41,"lat":40.515},{"lon":-104.39,"lat":40.519},{"lon":-104.374,"lat":40.511},{"lon":-104.422,"lat":40.487},{"lon":-104.406,"lat":40.491},{"lon":-104.39,"lat":40.483},{"lon":-104.374,"lat":40.487},{"lon":-104.341,"lat":40.487},{"lon":-104.325,"lat":40.491},{"lon":-104.309,"lat":40.483},{"lon":-104.406,"lat":40.454},{"lon":-104.39,"lat":40.458},{"lon":-104.374,"lat":40.45},{"lon":-104.358,"lat":40.454},{"lon":-104.341,"lat":40.458},{"lon":-104.325,"lat":40.45},{"lon":-104.309,"lat":40.454},{"lon":-104.293,"lat":40.458},
{"lon":-104.616,"lat":40.422},{"lon":-104.6,"lat":40.426},{"lon":-104.584,"lat":40.418},{"lon":-104.552,"lat":40.422},{"lon":-104.438,"lat":40.422},{"lon":-104.422,"lat":40.426},{"lon":-104.406,"lat":40.418},{"lon":-104.39,"lat":40.422},{"lon":-104.374,"lat":40.426},{"lon":-104.358,"lat":40.418},{"lon":-104.341,"lat":40.422},{"lon":-104.325,"lat":40.426},{"lon":-104.309,"lat":40.418},{"lon":-104.293,"lat":40.422},{"lon":-104.277,"lat":40.426},
{"lon":-104.632,"lat":40.39},{"lon":-104.616,"lat":40.394},{"lon":-104.6,"lat":40.386},{"lon":-104.584,"lat":40.39},{"lon":-104.552,"lat":40.39},{"lon":-104.535,"lat":40.394},{"lon":-104.519,"lat":40.386},{"lon":-104.487,"lat":40.39},{"lon":-104.455,"lat":40.39},{"lon":-104.438,"lat":40.394},{"lon":-104.422,"lat":40.386},{"lon":-104.406,"lat":40.39},{"lon":-104.39,"lat":40.394},{"lon":-104.374,"lat":40.386},{"lon":-104.358,"lat":40.39},{"lon":-104.325,"lat":40.39},{"lon":-104.309,"lat":40.394},{"lon":-104.293,"lat":40.386},{"lon":-104.277,"lat":40.39},{"lon":-104.261,"lat":40.394},{"lon":-104.245,"lat":40.386},{"lon":-104.228,"lat":40.39},{"lon":-104.212,"lat":40.394},{"lon":-104.196,"lat":40.386},
{"lon":-104.438,"lat":40.357},{"lon":-104.422,"lat":40.361},{"lon":-104.406,"lat":40.353},{"lon":-104.374,"lat":40.357},{"lon":-104.325,"lat":40.357},{"lon":-104.309,"lat":40.361},{"lon":-104.293,"lat":40.353},{"lon":-104.261,"lat":40.357},{"lon":-104.228,"lat":40.357},{"lon":-104.212,"lat":40.361},{"lon":-104.168,"lat":40.39},
{"lon":-104.317,"lat":40.325},{"lon":-104.301,"lat":40.329},{"lon":-104.289,"lat":40.321},{"lon":-104.313,"lat":40.29},{"lon":-104.297,"lat":40.294},{"lon":-104.305,"lat":40.258},{"lon":-104.374,"lat":40.278},{"lon":-104.356,"lat":40.258},
{"lon":-104.572,"lat":40.26},{"lon":-104.625,"lat":40.313},{"lon":-104.491,"lat":40.313},{"lon":-104.46,"lat":40.26},{"lon":-104.552,"lat":40.55},{"lon":-104.572,"lat":40.58},{"lon":-104.495,"lat":40.6},{"lon":-104.485,"lat":40.53},{"lon":-104.515,"lat":40.445},{"lon":-104.552,"lat":40.43},{"lon":-104.481,"lat":40.185},{"lon":-104.535,"lat":40.172},
{"lon":-103.845,"lat":40.867},{"lon":-103.825,"lat":40.871},{"lon":-103.804,"lat":40.863},{"lon":-103.784,"lat":40.867},{"lon":-103.885,"lat":40.834},{"lon":-103.865,"lat":40.838},{"lon":-103.845,"lat":40.83},{"lon":-103.825,"lat":40.834},{"lon":-103.804,"lat":40.838},{"lon":-103.784,"lat":40.83},{"lon":-103.764,"lat":40.834},{"lon":-103.885,"lat":40.802},{"lon":-103.865,"lat":40.806},{"lon":-103.845,"lat":40.798},{"lon":-103.825,"lat":40.802},{"lon":-103.804,"lat":40.806},{"lon":-103.784,"lat":40.802},{"lon":-103.885,"lat":40.77},{"lon":-103.865,"lat":40.774},{"lon":-103.845,"lat":40.766},{"lon":-103.825,"lat":40.77},{"lon":-103.804,"lat":40.774},
{"lon":-104.006,"lat":40.762},{"lon":-103.986,"lat":40.766},{"lon":-103.966,"lat":40.758},{"lon":-103.946,"lat":40.762},{"lon":-103.925,"lat":40.766},{"lon":-103.905,"lat":40.758},{"lon":-104.016,"lat":40.729},{"lon":-103.996,"lat":40.733},{"lon":-103.976,"lat":40.725},{"lon":-103.956,"lat":40.729},{"lon":-103.936,"lat":40.733},{"lon":-103.916,"lat":40.725}
]},
"layer":[
{"data":{"name":"cells"},"mark":{"type":"rect","strokeWidth":0},
"encoding":{
"x":{"field":"lon1","type":"quantitative","scale":{"domain":[-105.289,-103.42],"nice":false,"zero":false},"title":"Longitude",
"axis":{"values":[-105.25,-105,-104.75,-104.5,-104.25,-104,-103.75,-103.5],"labelExpr":"(datum.value*2)%1===0 ? replace(format(datum.value,'.1f'),'−','-') : ''","grid":true,"gridColor":"#f0f0f0","gridWidth":1.3,"domain":false,"ticks":false,"labelPadding":16,"labelFontSize":19,"labelColor":"#4d4d4d","labelFont":"Liberation Sans","titleFont":"Liberation Sans","titleFontSize":25,"titleFontWeight":"normal","titleColor":"#000000","titlePadding":7}},
"x2":{"field":"lon2"},
"y":{"field":"lat1","type":"quantitative","scale":{"domain":[39.662,41.853],"nice":false,"zero":false},"title":"Latitude",
"axis":{"values":[39.75,40,40.25,40.5,40.75,41,41.25,41.5,41.75],"labelExpr":"(datum.value*2)%1===0 ? format(datum.value,'.1f') : ''","grid":true,"gridColor":"#f0f0f0","gridWidth":1.3,"domain":false,"ticks":false,"labelPadding":12,"labelFontSize":19,"labelColor":"#4d4d4d","labelFont":"Liberation Sans","titleFont":"Liberation Sans","titleFontSize":25,"titleFontWeight":"normal","titleColor":"#000000","titlePadding":6}},
"y2":{"field":"lat2"},
"color":{"field":"pred","type":"quantitative","title":"Prediction",
"scale":{"domain":[-1.295,-0.865,-0.43,0,0.43,0.857,1.286],"range":["#4575b4","#91bfdb","#e0f3f8","#ffffbf","#fee090","#fc8d59","#d73027"],"interpolate":"lab"},
"legend":{"orient":"none","legendX":964,"legendY":155,"values":[-1,-0.5,0,0.5,1],"labelExpr":"replace(format(datum.value,'.1f'),'−','-')","gradientLength":202,"gradientThickness":41,"gradientStrokeWidth":0,"titleFontSize":25,"titleFontWeight":"normal","titleColor":"#000000","titleFont":"Liberation Sans","titlePadding":12,"labelFontSize":19,"labelColor":"#4d4d4d","labelFont":"Liberation Sans","labelOffset":13}}
}},
{"data":{"name":"sites"},"mark":{"type":"point","shape":"M-1,0H1M0,-1V1","filled":false,"stroke":"#000000","strokeWidth":1.6,"opacity":0.75,"size":115},
"encoding":{"x":{"field":"lon","type":"quantitative"},"y":{"field":"lat","type":"quantitative"}}},
{"data":{"name":"clumps"},"mark":{"type":"point","shape":"M-1,0H1M0,-1V1","filled":false,"stroke":"#000000","strokeWidth":4.5,"opacity":0.95,"size":130},
"encoding":{"x":{"field":"lon","type":"quantitative"},"y":{"field":"lat","type":"quantitative"}}}
]}
